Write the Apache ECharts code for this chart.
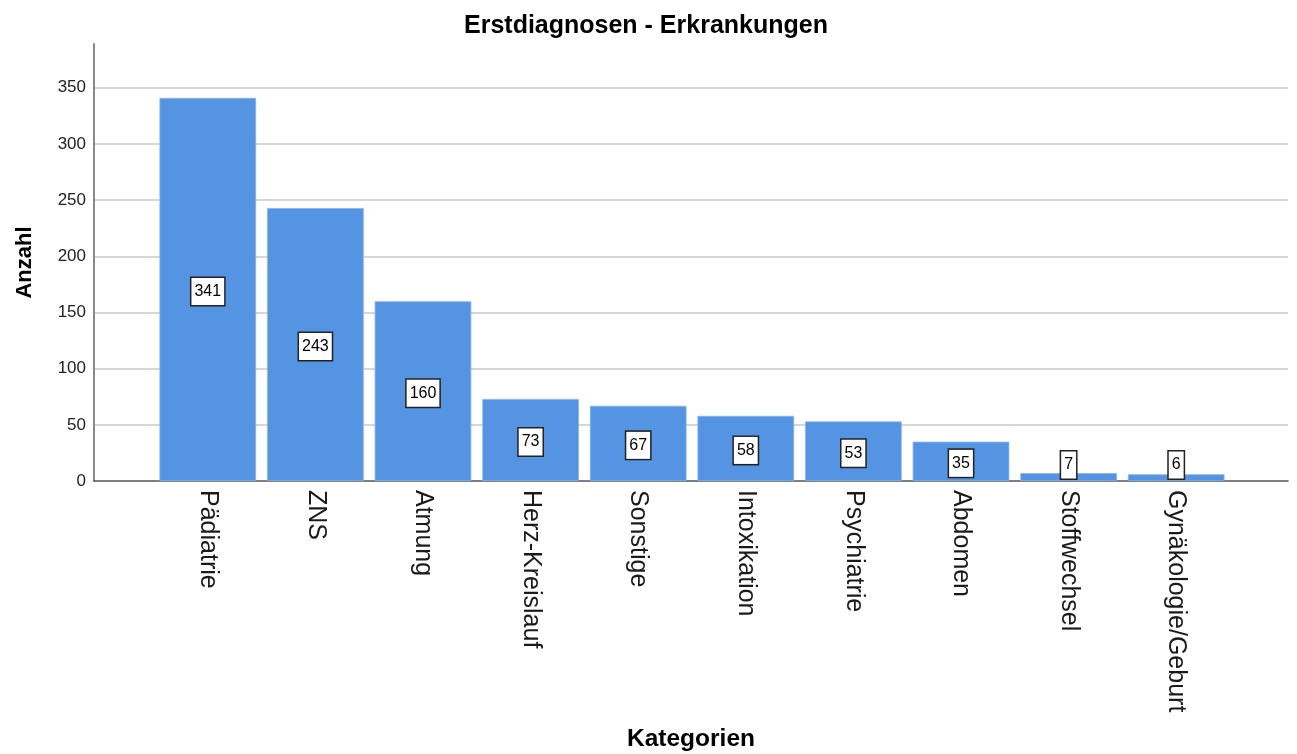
<!DOCTYPE html>
<html>
<head>
<meta charset="utf-8">
<script src="https://cdn.jsdelivr.net/npm/echarts@6/dist/echarts.min.js"></script>
<style>
  html, body { margin: 0; padding: 0; background: #fff; }
  #chart { width: 1297px; height: 754px; }
</style>
</head>
<body>
<div id="chart"></div>
<script>
const categories = ['Pädiatrie', 'ZNS', 'Atmung', 'Herz-Kreislauf', 'Sonstige',
  'Intoxikation', 'Psychiatrie', 'Abdomen', 'Stoffwechsel', 'Gynäkologie/Geburt'];
const counts = [341, 243, 160, 73, 67, 58, 53, 35, 7, 6];
const yTicks = [0, 50, 100, 150, 200, 250, 300, 350];

const yMax = 389;
const gridTop = 44;
const gridBottom = 273;
const pxPerUnit = (754 - gridTop - gridBottom) / yMax;
const font = '"Liberation Sans", Arial, sans-serif';

// SPSS keeps the label box above the baseline on tiny bars
function labelOffset(v) {
  const half = v * pxPerUnit / 2;
  if (half - 2 >= 16) return [0, 2];
  return [0, -(16 - half)];
}

let myChart = echarts.init(document.getElementById('chart'));
let option = {
  animation: false,
  textStyle: { fontFamily: font },
  title: {
    text: 'Erstdiagnosen - Erkrankungen',
    left: 459,
    top: 9,
    textStyle: { fontSize: 25, fontWeight: 'bold', color: '#000', fontFamily: font }
  },
  grid: [
    { left: 94, right: 9, top: gridTop, bottom: gridBottom, outerBoundsMode: 'none' },
    { left: 154, right: 67, top: gridTop, bottom: gridBottom, outerBoundsMode: 'none' }
  ],
  xAxis: [
    {
      gridIndex: 0,
      type: 'value',
      min: 0,
      max: 1,
      axisLine: { show: true, lineStyle: { color: '#555', width: 1.5 } },
      axisTick: { show: false },
      axisLabel: { show: false },
      splitLine: { show: false },
      name: 'Kategorien',
      nameLocation: 'middle',
      nameGap: 246,
      nameTextStyle: { fontSize: 24.5, fontWeight: 'bold', color: '#000', fontFamily: font }
    },
    {
      gridIndex: 1,
      type: 'category',
      data: categories,
      axisLine: { show: false },
      axisTick: { show: false },
      axisLabel: {
        rotate: -90,
        margin: 9,
        fontSize: 25,
        color: '#1a1a1a',
        fontFamily: font,
        interval: 0
      }
    }
  ],
  yAxis: [
    {
      gridIndex: 0,
      type: 'value',
      min: 0,
      max: yMax,
      interval: 50,
      axisLine: { show: true, lineStyle: { color: '#8a8a8a', width: 2 } },
      axisTick: { show: false },
      axisLabel: {
        fontSize: 17,
        color: '#222',
        margin: 8,
        fontFamily: font,
        showMaxLabel: false,
        formatter: v => yTicks.includes(v) ? String(v) : ''
      },
      splitLine: {
        show: true,
        showMinLine: false,
        showMaxLine: false,
        lineStyle: { color: '#c9c9c9', width: 1.5 }
      },
      name: 'Anzahl',
      nameLocation: 'middle',
      nameGap: 58,
      nameTextStyle: { fontSize: 22, fontWeight: 'bold', color: '#000', fontFamily: font }
    },
    {
      gridIndex: 1,
      type: 'value',
      min: 0,
      max: yMax,
      show: false
    }
  ],
  series: [
    {
      name: 'Anzahl',
      type: 'bar',
      xAxisIndex: 1,
      yAxisIndex: 1,
      barCategoryGap: '10.2%',
      data: counts.map(v => ({
        value: v,
        label: { offset: labelOffset(v) }
      })),
      itemStyle: {
        color: '#5594e3',
        borderColor: '#86b3ee',
        borderWidth: 0.8
      },
      label: {
        show: true,
        position: 'inside',
        fontSize: 16,
        color: '#000',
        fontFamily: font,
        backgroundColor: '#fff',
        borderColor: '#222',
        borderWidth: 1.5,
        padding: [6, 3, 5, 3]
      }
    }
  ]
};
myChart.setOption(option);
</script>
</body>
</html>
